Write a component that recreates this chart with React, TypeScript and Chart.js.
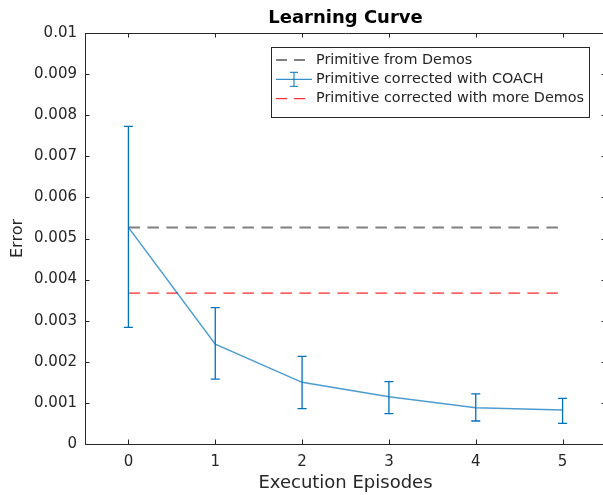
import React, { useEffect, useRef } from "react";
import { Chart, registerables } from "chart.js";

Chart.register(...registerables);

// ---- data ----
const episodes = [0, 1, 2, 3, 4, 5];
const coachMean = [0.00527, 0.00243, 0.0015, 0.00115, 0.00088, 0.00083];
const coachUpper = [0.00773, 0.00332, 0.00213, 0.00152, 0.00122, 0.00111];
const coachLower = [0.00284, 0.00158, 0.00086, 0.00074, 0.00056, 0.0005];
const demosError = 0.00527;
const moreDemosError = 0.00367;
const xTickValues = [0, 1, 2, 3, 4, 5];
const yTickLabels = ["0", "0.001", "0.002", "0.003", "0.004", "0.005", "0.006", "0.007", "0.008", "0.009", "0.01"];
const legendLabels = ["Primitive from Demos", "Primitive corrected with COACH", "Primitive corrected with more Demos"];

const FONT = "'DejaVu Sans', sans-serif";
const TEXT = "#262626";
const BLUE = "#0072BD";

const decorPlugin = {
  id: "decor",
  afterDatasetsDraw(chart: any) {
    const { ctx, chartArea: a, scales } = chart;
    const xs = scales.x, ys = scales.y;
    ctx.save();
    ctx.strokeStyle = BLUE;
    ctx.lineWidth = 1.3;
    episodes.forEach((e, i) => {
      const px = xs.getPixelForValue(e);
      const pt = ys.getPixelForValue(coachUpper[i]);
      const pb = ys.getPixelForValue(coachLower[i]);
      ctx.beginPath();
      ctx.moveTo(px, pt); ctx.lineTo(px, pb);
      ctx.moveTo(px - 4.5, pt); ctx.lineTo(px + 4.5, pt);
      ctx.moveTo(px - 4.5, pb); ctx.lineTo(px + 4.5, pb);
      ctx.stroke();
    });
    ctx.strokeStyle = TEXT;
    ctx.lineWidth = 1;
    ctx.beginPath();
    ctx.moveTo(a.left, a.top + 0.5); ctx.lineTo(a.right, a.top + 0.5);
    xTickValues.forEach((v) => {
      const px = Math.round(xs.getPixelForValue(v)) + 0.5;
      ctx.moveTo(px, a.bottom); ctx.lineTo(px, a.bottom - 4.5);
      ctx.moveTo(px, a.top); ctx.lineTo(px, a.top + 4.5);
    });
    yTickLabels.forEach((_, i) => {
      const py = Math.round(ys.getPixelForValue(i * 0.001)) + 0.5;
      ctx.moveTo(a.left, py); ctx.lineTo(a.left + 4.5, py);
      ctx.moveTo(a.right, py); ctx.lineTo(a.right - 4.5, py);
    });
    ctx.stroke();

    const bx = 271.5, by = 47.5, bw = 318, bh = 70;
    ctx.fillStyle = "#fff";
    ctx.fillRect(bx, by, bw, bh);
    ctx.strokeStyle = TEXT;
    ctx.strokeRect(bx, by, bw, bh);
    const rows = [60, 79.3, 98.7];
    const sx0 = 276, sx1 = 312;
    ctx.strokeStyle = "#000";
    ctx.setLineDash([11, 7]);
    ctx.beginPath(); ctx.moveTo(sx0, rows[0]); ctx.lineTo(sx1, rows[0]); ctx.stroke();
    ctx.strokeStyle = "#ff0000";
    ctx.beginPath(); ctx.moveTo(sx0, rows[2]); ctx.lineTo(sx1, rows[2]); ctx.stroke();
    ctx.setLineDash([]);
    ctx.strokeStyle = BLUE;
    const cx = (sx0 + sx1) / 2;
    ctx.beginPath();
    ctx.moveTo(sx0, rows[1]); ctx.lineTo(sx1, rows[1]);
    ctx.moveTo(cx, rows[1] - 7); ctx.lineTo(cx, rows[1] + 7);
    ctx.moveTo(cx - 4, rows[1] - 7); ctx.lineTo(cx + 4, rows[1] - 7);
    ctx.moveTo(cx - 4, rows[1] + 7); ctx.lineTo(cx + 4, rows[1] + 7);
    ctx.stroke();
    ctx.fillStyle = TEXT;
    ctx.font = `14.4px ${FONT}`;
    ctx.textBaseline = "middle";
    ctx.textAlign = "left";
    legendLabels.forEach((t, i) => ctx.fillText(t, 316, rows[i]));
    ctx.restore();
  },
};

export default function App() {
  const ref = useRef<HTMLCanvasElement>(null);
  useEffect(() => {
    const chart = new Chart(ref.current!, {
      type: "line",
      data: {
        datasets: [
          {
            label: legendLabels[0],
            data: [{ x: episodes[0], y: demosError }, { x: episodes[episodes.length - 1], y: demosError }],
            borderColor: "#808080",
            borderWidth: 2,
            borderDash: [11.5, 7.5],
            pointRadius: 0,
          },
          {
            label: legendLabels[1],
            data: episodes.map((e, i) => ({ x: e, y: coachMean[i] })),
            borderColor: "rgba(0,114,189,0.7)",
            borderWidth: 1.5,
            pointRadius: 0,
          },
          {
            label: legendLabels[2],
            data: [{ x: episodes[0], y: moreDemosError }, { x: episodes[episodes.length - 1], y: moreDemosError }],
            borderColor: "#ff2a2a",
            borderWidth: 1.3,
            borderDash: [11.5, 7.5],
            pointRadius: 0,
          },
        ],
      },
      options: {
        responsive: false,
        animation: false,
        devicePixelRatio: 1,
        layout: { padding: { left: 0, right: 4, top: 0, bottom: 0 } },
        plugins: {
          legend: { display: false },
          tooltip: { enabled: false },
          title: {
            display: true,
            text: "Learning Curve",
            fullSize: false,
            color: "#000",
            font: { family: FONT, size: 18, weight: "bold", lineHeight: 1.2 },
            padding: { top: 7.2, bottom: 4.2 },
          },
        },
        scales: {
          x: {
            type: "linear",
            min: -0.5,
            max: 5.5,
            afterBuildTicks: (s: any) => { s.ticks = xTickValues.map((v) => ({ value: v })); },
            afterFit: (s: any) => { s.height = 51; },
            ticks: {
              color: TEXT,
              font: { family: FONT, size: 15 },
              padding: 9,
              maxRotation: 0,
              callback: (v: any) => String(v),
            },
            grid: { drawOnChartArea: false, drawTicks: false },
            border: { display: true, color: TEXT, width: 1 },
            title: {
              display: true,
              text: "Execution Episodes",
              color: TEXT,
              font: { family: FONT, size: 18, lineHeight: 1.2 },
              padding: { top: 0, bottom: 0.7 },
            },
          },
          y: {
            type: "linear",
            min: 0,
            max: 0.01,
            afterBuildTicks: (s: any) => { s.ticks = yTickLabels.map((_, i) => ({ value: i * 0.001 })); },
            afterFit: (s: any) => { s.width = 85; },
            ticks: {
              color: TEXT,
              font: { family: FONT, size: 15 },
              padding: 8,
              callback: (_v: any, i: number) => yTickLabels[i],
            },
            grid: { drawOnChartArea: false, drawTicks: false },
            border: { display: true, color: TEXT, width: 1 },
            title: {
              display: true,
              text: "Error",
              color: TEXT,
              font: { family: FONT, size: 16, lineHeight: 1.2 },
              padding: { top: 8.4, bottom: 0 },
            },
          },
        },
      },
      plugins: [decorPlugin],
    } as any);
    return () => chart.destroy();
  }, []);
  return (
    <div style={{ position: "fixed", left: 0, top: 0, width: 603, height: 495, overflow: "hidden", background: "#fff" }}>
      <canvas ref={ref} width={610} height={495} style={{ display: "block", width: 610, height: 495 }} />
    </div>
  );
}
